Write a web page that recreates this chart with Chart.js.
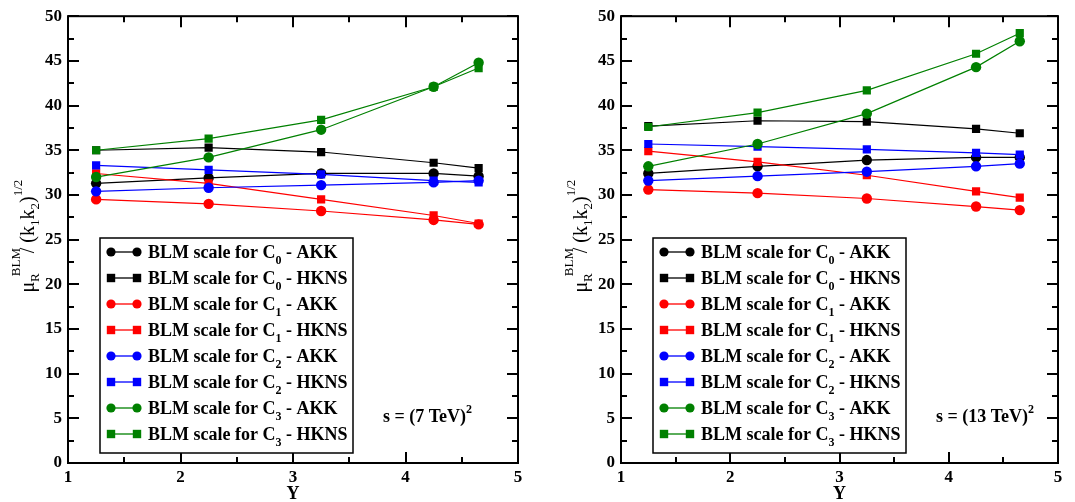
<!DOCTYPE html>
<html><head><meta charset="utf-8">
<script src="https://cdn.jsdelivr.net/npm/chart.js@4/dist/chart.umd.min.js"></script>
<style>
html,body{margin:0;padding:0;background:#fff;}
#wrap{position:relative;width:1075px;height:502px;overflow:hidden;}
canvas{position:absolute;top:0;}
</style></head>
<body><div id="wrap">
<canvas id="left" width="540" height="502" style="left:0px"></canvas>
<canvas id="right" width="535" height="502" style="left:540px"></canvas>
</div>
<script>
// ---- data ----
const Y = [1.25, 2.25, 3.25, 4.25, 4.65];
const seriesLabels = [
  'BLM scale for C_0 - AKK', 'BLM scale for C_0 - HKNS',
  'BLM scale for C_1 - AKK', 'BLM scale for C_1 - HKNS',
  'BLM scale for C_2 - AKK', 'BLM scale for C_2 - HKNS',
  'BLM scale for C_3 - AKK', 'BLM scale for C_3 - HKNS'
];
const seriesColors = ['#000000','#000000','#ff0000','#ff0000','#0000ff','#0000ff','#008000','#008000'];
const seriesMarkers = ['circle','rect','circle','rect','circle','rect','circle','rect'];

// sqrt(s) = 7 TeV
const c0_akk_7  = [31.3, 31.9, 32.4, 32.4, 32.1];
const c0_hkns_7 = [35.0, 35.3, 34.8, 33.6, 33.0];
const c1_akk_7  = [29.5, 29.0, 28.2, 27.2, 26.7];
const c1_hkns_7 = [32.4, 31.3, 29.5, 27.7, 26.8];
const c2_akk_7  = [30.4, 30.8, 31.1, 31.4, 31.6];
const c2_hkns_7 = [33.3, 32.8, 32.3, 31.6, 31.4];
const c3_akk_7  = [32.0, 34.2, 37.3, 42.1, 44.8];
const c3_hkns_7 = [35.0, 36.3, 38.4, 42.1, 44.2];

// sqrt(s) = 13 TeV
const c0_akk_13  = [32.4, 33.2, 33.9, 34.2, 34.2];
const c0_hkns_13 = [37.7, 38.3, 38.2, 37.4, 36.9];
const c1_akk_13  = [30.6, 30.2, 29.6, 28.7, 28.3];
const c1_hkns_13 = [34.9, 33.7, 32.2, 30.4, 29.7];
const c2_akk_13  = [31.6, 32.1, 32.6, 33.2, 33.5];
const c2_hkns_13 = [35.7, 35.4, 35.1, 34.7, 34.5];
const c3_akk_13  = [33.2, 35.7, 39.1, 44.3, 47.2];
const c3_hkns_13 = [37.6, 39.2, 41.7, 45.8, 48.1];

const xTicks = [1, 2, 3, 4, 5];
const yTicks = [0, 5, 10, 15, 20, 25, 30, 35, 40, 45, 50];

const SERIF = '"Liberation Serif", "Times New Roman", serif';

function buildDatasets(arrs) {
  return arrs.map((vals, i) => ({
    label: seriesLabels[i],
    data: vals.map((v, j) => ({x: Y[j], y: v})),
    borderColor: seriesColors[i],
    backgroundColor: seriesColors[i],
    borderWidth: 1.2,
    pointStyle: seriesMarkers[i],
    pointRadius: seriesMarkers[i] === 'rect' ? 5.8 : 5.2,
    pointBorderWidth: 0,
    tension: 0,
    fill: false,
    order: 7 - i
  }));
}

function drawRich(ctx, parts, x, y) {
  let cx = x;
  for (const p of parts) {
    ctx.font = p.font;
    ctx.fillText(p.t, cx, y + (p.dy || 0));
    cx += ctx.measureText(p.t).width + (p.gap || 0);
  }
  return cx;
}

const framePlugin = {
  id: 'frame',
  afterDatasetsDraw(chart, args, opts) {
    const ctx = chart.ctx;
    const a = chart.chartArea;
    const xs = chart.scales.x, ys = chart.scales.y;
    ctx.save();
    ctx.strokeStyle = '#000';
    ctx.lineWidth = 2;
    ctx.strokeRect(a.left, a.top, a.right - a.left, a.bottom - a.top);
    ctx.beginPath();
    for (let v = 1; v <= 5.001; v += 0.5) {
      const px = Math.round(xs.getPixelForValue(v));
      const len = Math.abs(v - Math.round(v)) < 1e-6 ? 11 : 6;
      ctx.moveTo(px, a.bottom); ctx.lineTo(px, a.bottom - len);
      ctx.moveTo(px, a.top); ctx.lineTo(px, a.top + len);
    }
    for (let v = 0; v <= 50.001; v += 2.5) {
      const py = Math.round(ys.getPixelForValue(v));
      const len = Math.abs(v / 5 - Math.round(v / 5)) < 1e-6 ? 11 : 6;
      ctx.moveTo(a.left, py); ctx.lineTo(a.left + len, py);
      ctx.moveTo(a.right, py); ctx.lineTo(a.right - len, py);
    }
    ctx.stroke();

    // legend box
    const bx = a.left + 32, by = 238, bw = 253, bh = 215;
    ctx.fillStyle = '#fff';
    ctx.fillRect(bx, by, bw, bh);
    ctx.lineWidth = 1.5;
    ctx.strokeRect(bx, by, bw, bh);
    chart.data.datasets.forEach((ds, i) => {
      const cy = by + 14 + 26 * i;
      const x1 = a.left + 43, x2 = a.left + 69;
      ctx.strokeStyle = ds.borderColor;
      ctx.lineWidth = 1.3;
      ctx.beginPath(); ctx.moveTo(x1, cy); ctx.lineTo(x2, cy); ctx.stroke();
      ctx.fillStyle = ds.borderColor;
      for (const mx of [x1, x2]) {
        if (ds.pointStyle === 'circle') {
          ctx.beginPath(); ctx.arc(mx, cy, 4.6, 0, Math.PI * 2); ctx.fill();
        } else {
          ctx.fillRect(mx - 4.2, cy - 4.2, 8.4, 8.4);
        }
      }
      const m = ds.label.match(/^(.*)_(\d)(.*)$/);
      ctx.fillStyle = '#000';
      ctx.textBaseline = 'alphabetic';
      drawRich(ctx, [
        {t: m[1], font: 'bold 18px ' + SERIF},
        {t: m[2], font: 'bold 12px ' + SERIF, dy: 6},
        {t: m[3], font: 'bold 18px ' + SERIF}
      ], a.left + 80, cy + 6);
    });

    // energy annotation
    ctx.fillStyle = '#000';
    drawRich(ctx, [
      {t: opts.energy, font: 'bold 18px ' + SERIF},
      {t: '2', font: 'bold 12px ' + SERIF, dy: -9}
    ], a.left + 315, 422);

    // x title
    ctx.font = 'bold 18px ' + SERIF;
    ctx.textAlign = 'center';
    ctx.textBaseline = 'middle';
    ctx.fillText('Y', (a.left + a.right) / 2, 494);

    // y title (rotated)
    ctx.save();
    ctx.translate(a.left - opts.titleOff, (a.top + a.bottom) / 2);
    ctx.rotate(-Math.PI / 2);
    ctx.textAlign = 'left';
    ctx.textBaseline = 'alphabetic';
    const big = '20px ' + SERIF, small = '13px ' + SERIF;
    const segs = [
      {t: ' / (k', font: big},
      {t: '1', font: small, dy: 5},
      {t: 'k', font: big},
      {t: '2', font: small, dy: 5},
      {t: ')', font: big},
      {t: '1/2', font: small, dy: -12}
    ];
    let cx = -53;
    ctx.font = big; ctx.fillText('μ', cx, 0); const wmu = ctx.measureText('μ').width;
    ctx.font = small; ctx.fillText('R', cx + wmu, 5); const wR = ctx.measureText('R').width;
    ctx.fillText('BLM', cx + wmu + wR - 3, -14);
    let px = cx + wmu + wR + 15;
    drawRich(ctx, segs, px, 0);
    ctx.restore();
    ctx.restore();
  }
};

function makeChart(id, arrs, energy, yWidth, padRight, titleOff) {
  return new Chart(document.getElementById(id), {
    type: 'line',
    data: { datasets: buildDatasets(arrs) },
    options: {
      responsive: false,
      animation: false,
      events: [],
      layout: { padding: { top: 13, right: padRight, left: 0, bottom: 0 } },
      plugins: { legend: { display: false }, tooltip: { enabled: false }, frame: { energy, titleOff } },
      scales: {
        x: {
          type: 'linear', min: 1, max: 5,
          afterBuildTicks: s => { s.ticks = xTicks.map(v => ({value: v})); },
          afterFit: s => { s.height = 39; },
          grid: { display: false, drawTicks: false },
          border: { display: false },
          ticks: { color: '#000', padding: 4, maxRotation: 0, font: { family: SERIF, size: 17, weight: 'bold' } }
        },
        y: {
          min: 0, max: 50,
          afterBuildTicks: s => { s.ticks = yTicks.map(v => ({value: v})); },
          afterFit: s => { s.width = yWidth; },
          grid: { display: false, drawTicks: false },
          border: { display: false },
          ticks: { color: '#000', padding: 6, font: { family: SERIF, size: 17, weight: 'bold' } }
        }
      }
    },
    plugins: [framePlugin]
  });
}

makeChart('left',
  [c0_akk_7, c0_hkns_7, c1_akk_7, c1_hkns_7, c2_akk_7, c2_hkns_7, c3_akk_7, c3_hkns_7],
  's = (7 TeV)', 68, 22, 34);
makeChart('right',
  [c0_akk_13, c0_hkns_13, c1_akk_13, c1_hkns_13, c2_akk_13, c2_hkns_13, c3_akk_13, c3_hkns_13],
  's = (13 TeV)', 81, 17, 34);
</script>
</body></html>
